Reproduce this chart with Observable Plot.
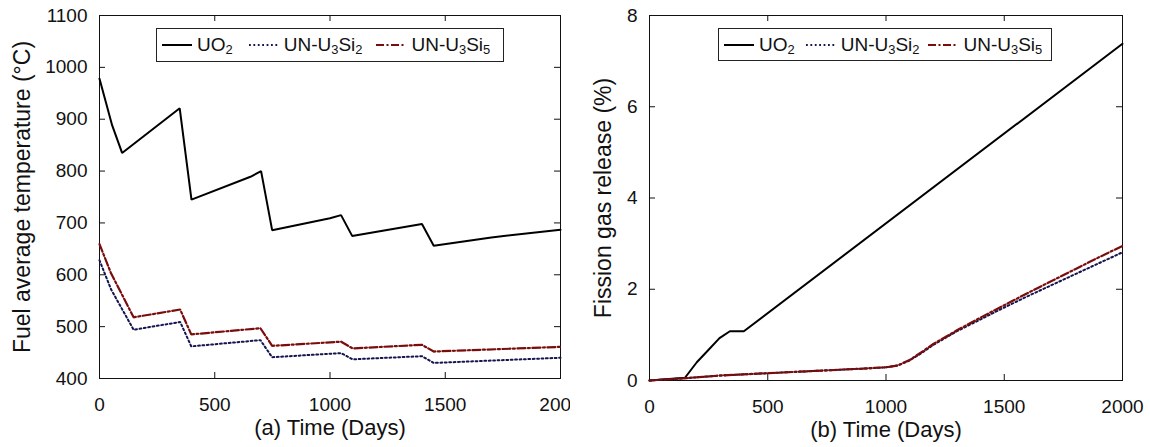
<!DOCTYPE html>
<html><head><meta charset="utf-8">
<script src="https://cdn.jsdelivr.net/npm/d3@7"></script>
<script src="https://cdn.jsdelivr.net/npm/@observablehq/plot@0.6"></script>
<style>
body{margin:0;background:#fff;}
#wrap{position:relative;width:1150px;height:447px;overflow:hidden;font-family:"Liberation Sans",Arial,Helvetica,sans-serif;}
.panel{position:absolute;top:0;}
.legend{position:absolute;border:1px solid #222;background:#fff;display:flex;align-items:center;font-size:19px;box-sizing:border-box;padding-left:5px;color:#111;}
.item{display:flex;align-items:center;white-space:nowrap;}
.item svg{margin-right:5px;}
sub{font-size:0.68em;vertical-align:-0.22em;line-height:0;}
</style></head><body><div id="wrap"></div>
<script>
// ---------- data ----------
const xTicks = [0, 500, 1000, 1500, 2000];
const tempTicks = [400, 500, 600, 700, 800, 900, 1000, 1100];
const fgrTicks = [0, 2, 4, 6, 8];

// (a) fuel average temperature
const tempDaysUO2 = [0, 55, 98, 348, 399, 655, 701, 749, 1000, 1048, 1096, 1399, 1450, 1700, 2000];
const tempUO2     = [978, 888, 835, 921, 745, 789, 800, 686, 709, 715, 675, 698, 656, 672, 687];
const tempDaysUN  = [0, 50, 148, 350, 398, 698, 749, 1048, 1098, 1399, 1450, 2000];
const tempSi2     = [628, 572, 494, 509, 462, 474, 441, 449, 437, 443, 430, 440];
const tempSi5     = [659, 603, 518, 533, 485, 497, 463, 471, 458, 465, 452, 461];

// (b) fission gas release
const fgrDaysUO2 = [0, 150, 200, 240, 296, 340, 399, 2000];
const fgrUO2     = [0, 0.06, 0.40, 0.62, 0.93, 1.08, 1.08, 7.38];
const fgrDaysUN  = [0, 150, 300, 500, 700, 900, 1000, 1050, 1100, 1150, 1200, 1300, 1400, 1500, 1600, 1700, 1800, 1900, 2000];
const fgrSi2     = [0, 0.05, 0.11, 0.16, 0.21, 0.26, 0.29, 0.33, 0.44, 0.60, 0.78, 1.08, 1.34, 1.60, 1.85, 2.09, 2.33, 2.57, 2.81];
const fgrSi5     = [0, 0.05, 0.11, 0.16, 0.21, 0.26, 0.29, 0.33, 0.45, 0.62, 0.80, 1.10, 1.38, 1.65, 1.92, 2.18, 2.44, 2.70, 2.95];

const seriesNames = ["UO2", "UN-U3Si2", "UN-U3Si5"];
const styles = {
  "UO2":      {stroke: "#000000", strokeWidth: 2, strokeDasharray: null},
  "UN-U3Si2": {stroke: "#14144f", strokeWidth: 2, strokeDasharray: "1.8,2.6"},
  "UN-U3Si5": {stroke: "#7a0c0c", strokeWidth: 2.2, strokeDasharray: "8,2.5,2,2.5"}
};
const legendHTML = {
  "UO2": "UO<sub>2</sub>",
  "UN-U3Si2": "UN-U<sub>3</sub>Si<sub>2</sub>",
  "UN-U3Si5": "UN-U<sub>3</sub>Si<sub>5</sub>"
};

function rows(days, vals) { return days.map((d, i) => ({day: d, v: vals[i]})); }

function panel(o) {
  const innerW = o.width - o.ml - o.mr, innerH = o.height - o.mt - o.mb;
  const marks = [
    Plot.frame({stroke: "#111"}),
    Plot.tickX(xTicks, {x: d => d, insetTop: innerH - 6, stroke: "#111"}),
    Plot.tickX(xTicks, {x: d => d, insetBottom: innerH - 6, stroke: "#111"}),
    Plot.tickY(o.yTicks, {y: d => d, insetLeft: innerW - 6, stroke: "#111"}),
    Plot.tickY(o.yTicks, {y: d => d, insetRight: innerW - 6, stroke: "#111"}),
    Plot.axisX(xTicks, {tickSize: 0, tickPadding: 19, fontSize: 19, label: null, fill: "#111", tickFormat: d3.format("d")}),
    Plot.axisY(o.yTicks, {tickSize: 0, tickPadding: 12, fontSize: 19, label: null, fill: "#111", tickFormat: d3.format("d")}),
    Plot.text([o.xTitle], {frameAnchor: "bottom", dy: 56, fontSize: 22, fill: "#111", textAnchor: "middle"}),
    Plot.text([o.yTitle], {frameAnchor: "left", dx: o.yTitleDx, rotate: -90, fontSize: 23, fill: "#111", textAnchor: "middle"})
  ];
  for (const s of o.series) {
    const st = styles[s.name];
    marks.push(Plot.line(rows(s.days, s.vals), {x: "day", y: "v", stroke: st.stroke, strokeWidth: st.strokeWidth, strokeDasharray: st.strokeDasharray, strokeLinejoin: "miter"}));
  }
  const svg = Plot.plot({
    width: o.width, height: o.height,
    marginLeft: o.ml, marginRight: o.mr, marginTop: o.mt, marginBottom: o.mb,
    x: {domain: [0, 2000]},
    y: {domain: o.yDomain},
    style: {fontFamily: '"Liberation Sans", Arial, Helvetica, sans-serif', background: "white", overflow: "hidden", color: "#111"},
    marks
  });
  const div = document.createElement("div");
  div.className = "panel";
  div.style.left = o.left + "px";
  div.appendChild(svg);
  return div;
}

function legend(left, top, w, h, gaps) {
  const box = document.createElement("div");
  box.className = "legend";
  Object.assign(box.style, {left: left + "px", top: top + "px", width: w + "px", height: h + "px"});
  seriesNames.forEach((n, i) => {
    const st = styles[n];
    const item = document.createElement("div");
    item.className = "item";
    item.style.marginRight = gaps[i] + "px";
    item.innerHTML = `<svg width="30" height="10"><line x1="0" x2="30" y1="5" y2="5" stroke="${st.stroke}" stroke-width="2" ${st.strokeDasharray ? `stroke-dasharray="${st.strokeDasharray}"` : ""}/></svg><span>${legendHTML[n]}</span>`;
    box.appendChild(item);
  });
  return box;
}

const wrap = document.getElementById("wrap");
wrap.appendChild(panel({
  left: 0, width: 570, height: 447, ml: 99, mr: 10, mt: 15, mb: 69,
  yDomain: [400, 1100], yTicks: tempTicks,
  xTitle: "(a) Time (Days)", yTitle: "Fuel average temperature (°C)", yTitleDx: -77,
  series: [
    {name: "UO2", days: tempDaysUO2, vals: tempUO2},
    {name: "UN-U3Si2", days: tempDaysUN, vals: tempSi2},
    {name: "UN-U3Si5", days: tempDaysUN, vals: tempSi5}
  ]
}));
wrap.appendChild(panel({
  left: 570, width: 580, height: 447, ml: 79, mr: 28, mt: 15, mb: 67,
  yDomain: [0, 8], yTicks: fgrTicks,
  xTitle: "(b) Time (Days)", yTitle: "Fission gas release (%)", yTitleDx: -46,
  series: [
    {name: "UO2", days: fgrDaysUO2, vals: fgrUO2},
    {name: "UN-U3Si2", days: fgrDaysUN, vals: fgrSi2},
    {name: "UN-U3Si5", days: fgrDaysUN, vals: fgrSi5}
  ]
}));
wrap.appendChild(legend(156, 28, 348, 34, [16, 14, 0]));
wrap.appendChild(legend(718, 28, 334, 33, [11, 9, 0]));
</script>
</body></html>
